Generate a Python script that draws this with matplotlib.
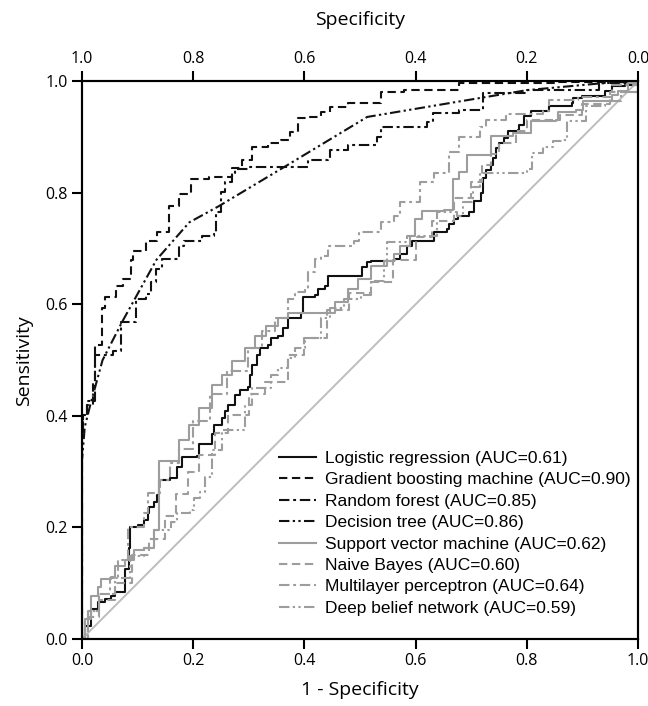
import matplotlib
matplotlib.use("Agg")
import matplotlib.pyplot as plt

# ROC curve points (x = 1 - specificity, y = sensitivity)
lr_x = [0, 0.005, 0.016, 0.029, 0.041, 0.052, 0.059, 0.078, 0.078, 0.085, 0.087, 0.1, 0.112, 0.118, 0.121, 0.13,
        0.135, 0.139, 0.159, 0.171, 0.18, 0.207, 0.21, 0.234, 0.237, 0.251, 0.258, 0.263, 0.276, 0.285, 0.299,
        0.303, 0.305, 0.314, 0.321, 0.335, 0.34, 0.353, 0.362, 0.371, 0.394, 0.398, 0.419, 0.424, 0.437, 0.442,
        0.501, 0.504, 0.513, 0.519, 0.561, 0.572, 0.585, 0.594, 0.626, 0.633, 0.656, 0.661, 0.67, 0.677, 0.697,
        0.706, 0.718, 0.722, 0.727, 0.736, 0.74, 0.745, 0.75, 0.759, 0.766, 0.784, 0.786, 0.795, 0.807, 0.84,
        0.882, 0.884, 0.9, 0.941, 0.954, 0.977, 1.0]
lr_y = [0, 0.023, 0.053, 0.066, 0.071, 0.077, 0.085, 0.089, 0.125, 0.164, 0.201, 0.205, 0.214, 0.226, 0.237, 0.246,
        0.258, 0.285, 0.288, 0.308, 0.326, 0.329, 0.349, 0.367, 0.384, 0.397, 0.409, 0.42, 0.438, 0.447, 0.452,
        0.473, 0.491, 0.509, 0.521, 0.527, 0.539, 0.544, 0.557, 0.575, 0.584, 0.614, 0.616, 0.628, 0.633, 0.651,
        0.651, 0.667, 0.676, 0.678, 0.681, 0.69, 0.705, 0.713, 0.713, 0.73, 0.735, 0.744, 0.753, 0.758, 0.765,
        0.786, 0.8, 0.827, 0.84, 0.849, 0.863, 0.881, 0.89, 0.899, 0.911, 0.913, 0.922, 0.938, 0.947, 0.956,
        0.961, 0.97, 0.973, 0.982, 0.991, 0.993, 1.0]

gbm_x = [0, 0, 0.002, 0.009, 0.02, 0.023, 0.036, 0.041, 0.062, 0.073, 0.089, 0.091, 0.116, 0.135, 0.157, 0.175,
         0.196, 0.228, 0.269, 0.287, 0.305, 0.335, 0.358, 0.374, 0.389, 0.406, 0.43, 0.447, 0.478, 0.537, 0.579,
         0.679, 0.85, 1.0]
gbm_y = [0, 0.36, 0.402, 0.42, 0.463, 0.527, 0.594, 0.614, 0.633, 0.646, 0.68, 0.696, 0.713, 0.73, 0.776, 0.797,
         0.824, 0.829, 0.845, 0.859, 0.883, 0.89, 0.895, 0.909, 0.934, 0.936, 0.945, 0.954, 0.961, 0.98, 0.984,
         0.996, 0.998, 1.0]

rf_x = [0, 0, 0.002, 0.009, 0.023, 0.055, 0.071, 0.098, 0.116, 0.125, 0.134, 0.144, 0.169, 0.175, 0.184, 0.216,
        0.237, 0.241, 0.25, 0.258, 0.269, 0.276, 0.299, 0.394, 0.406, 0.442, 0.447, 0.478, 0.531, 0.537, 0.62,
        0.632, 0.679, 0.722, 0.8, 0.93, 1.0]
rf_y = [0, 0.37, 0.402, 0.427, 0.509, 0.516, 0.569, 0.61, 0.619, 0.64, 0.664, 0.681, 0.681, 0.705, 0.713, 0.722,
        0.726, 0.765, 0.802, 0.819, 0.836, 0.842, 0.847, 0.847, 0.859, 0.863, 0.877, 0.886, 0.9, 0.918, 0.927,
        0.943, 0.948, 0.979, 0.984, 0.996, 1.0]

dt_x = [0, 0, 0.005, 0.015, 0.037, 0.073, 0.134, 0.193, 0.246, 0.365, 0.513, 0.674, 0.8, 0.93, 1.0]
dt_y = [0, 0.32, 0.38, 0.42, 0.50, 0.57, 0.68, 0.747, 0.776, 0.847, 0.936, 0.963, 0.984, 0.996, 1.0]

svm_x = [0, 0.005, 0.016, 0.029, 0.034, 0.052, 0.059, 0.077, 0.094, 0.112, 0.13, 0.139, 0.139, 0.169, 0.175,
         0.193, 0.21, 0.234, 0.251, 0.269, 0.294, 0.312, 0.331, 0.353, 0.371, 0.419, 0.455, 0.478, 0.496, 0.519,
         0.544, 0.561, 0.572, 0.59, 0.599, 0.612, 0.651, 0.668, 0.679, 0.692, 0.727, 0.736, 0.775, 0.807, 0.852,
         0.857, 0.888, 0.902, 0.954, 0.964, 0.982, 1.0]
svm_y = [0, 0.036, 0.077, 0.094, 0.107, 0.112, 0.13, 0.142, 0.16, 0.164, 0.196, 0.286, 0.32, 0.32, 0.356,
         0.384, 0.415, 0.456, 0.473, 0.498, 0.521, 0.544, 0.562, 0.575, 0.584, 0.584, 0.605, 0.628, 0.646, 0.669,
         0.678, 0.69, 0.705, 0.722, 0.753, 0.767, 0.77, 0.824, 0.838, 0.867, 0.868, 0.902, 0.908, 0.929, 0.93,
         0.945, 0.948, 0.964, 0.975, 0.982, 0.996, 1.0]

nb_x = [0, 0.01, 0.03, 0.06, 0.09, 0.12, 0.15, 0.17, 0.19, 0.21, 0.24, 0.263, 0.29, 0.3, 0.33, 0.37, 0.40, 0.44,
        0.48, 0.52, 0.56, 0.60, 0.63, 0.67, 0.70, 0.72, 0.735, 0.75, 0.78, 0.80, 0.86, 0.9, 0.95, 1.0]
nb_y = [0, 0.04, 0.07, 0.10, 0.15, 0.18, 0.22, 0.26, 0.30, 0.33, 0.37, 0.402, 0.402, 0.44, 0.46, 0.51, 0.54, 0.59,
        0.62, 0.64, 0.68, 0.72, 0.75, 0.79, 0.82, 0.85, 0.87, 0.89, 0.91, 0.93, 0.94, 0.96, 0.98, 1.0]

mlp_x = [0, 0.01, 0.03, 0.05, 0.064, 0.082, 0.112, 0.118, 0.141, 0.159, 0.175, 0.2, 0.23, 0.26, 0.299, 0.323,
         0.348, 0.371, 0.383, 0.401, 0.406, 0.419, 0.43, 0.442, 0.465, 0.49, 0.499, 0.537, 0.561, 0.572, 0.608,
         0.633, 0.661, 0.679, 0.715, 0.727, 0.763, 0.829, 0.84, 0.893, 0.954, 1.0]
mlp_y = [0, 0.05, 0.08, 0.11, 0.142, 0.201, 0.226, 0.262, 0.285, 0.315, 0.34, 0.39, 0.44, 0.48, 0.521, 0.552,
         0.575, 0.61, 0.623, 0.628, 0.658, 0.681, 0.687, 0.705, 0.705, 0.713, 0.73, 0.747, 0.758, 0.783, 0.819,
         0.836, 0.874, 0.9, 0.918, 0.93, 0.941, 0.947, 0.966, 0.972, 0.993, 1.0]

dbn_x = [0, 0.01, 0.03, 0.06, 0.087, 0.112, 0.13, 0.16, 0.171, 0.194, 0.201, 0.212, 0.221, 0.234, 0.251, 0.294,
         0.305, 0.34, 0.353, 0.371, 0.383, 0.401, 0.43, 0.447, 0.472, 0.501, 0.519, 0.544, 0.549, 0.585, 0.638,
         0.674, 0.686, 0.704, 0.715, 0.8, 0.81, 0.829, 0.847, 0.866, 0.873, 0.906, 0.941, 0.97, 1.0]
dbn_y = [0, 0.05, 0.08, 0.11, 0.148, 0.164, 0.196, 0.21, 0.226, 0.231, 0.253, 0.263, 0.29, 0.338, 0.374, 0.42,
         0.45, 0.473, 0.486, 0.504, 0.521, 0.539, 0.575, 0.593, 0.61, 0.616, 0.641, 0.669, 0.712, 0.722, 0.765,
         0.758, 0.783, 0.811, 0.836, 0.842, 0.872, 0.883, 0.893, 0.895, 0.929, 0.956, 0.964, 0.98, 1.0]

labels = ["Logistic regression (AUC=0.61)", "Gradient boosting machine (AUC=0.90)",
          "Random forest (AUC=0.85)", "Decision tree (AUC=0.86)",
          "Support vector machine (AUC=0.62)", "Naive Bayes (AUC=0.60)",
          "Multilayer perceptron (AUC=0.64)", "Deep belief network (AUC=0.59)"]

black = "#111111"
grey = "#9d9d9d"
dash = (0, (4, 2.2))
dashdot = (0, (5, 1.8, 1.4, 1.8))
dashdotdot = (0, (5, 1.6, 1.1, 1.6, 1.1, 1.6))

fig = plt.figure(figsize=(6.48, 7.06), dpi=100)
ax = fig.add_axes([0.1265, 0.0949, 0.858, 0.790])

ax.plot([0, 1], [0, 1], color="#bdbdbd", lw=1.4, zorder=1)

lw = 1.5
ax.plot(lr_x, lr_y, color=black, lw=lw, ls="-", drawstyle="steps-post", label=labels[0])
ax.plot(gbm_x, gbm_y, color=black, lw=lw, ls=dash, drawstyle="steps-post", label=labels[1])
ax.plot(rf_x, rf_y, color=black, lw=lw, ls=dashdot, drawstyle="steps-post", label=labels[2])
ax.plot(dt_x, dt_y, color=black, lw=lw, ls=dashdotdot, label=labels[3])
ax.plot(svm_x, svm_y, color=grey, lw=lw, ls="-", drawstyle="steps-post", label=labels[4])
ax.plot(nb_x, nb_y, color=grey, lw=lw, ls=dash, drawstyle="steps-post", label=labels[5])
ax.plot(mlp_x, mlp_y, color=grey, lw=lw, ls=dashdot, drawstyle="steps-post", label=labels[6])
ax.plot(dbn_x, dbn_y, color=grey, lw=lw, ls=dashdotdot, drawstyle="steps-post", label=labels[7])

ax.set_xlim(0, 1)
ax.set_ylim(0, 1)
ticks = [0, 0.2, 0.4, 0.6, 0.8, 1.0]
ax.set_xticks(ticks)
ax.set_yticks(ticks)
ax.set_xticklabels([f"{t:.1f}" for t in ticks])
ax.set_yticklabels([f"{t:.1f}" for t in ticks])

tick_font = "Open Sans"
for lab in ax.get_xticklabels() + ax.get_yticklabels():
    lab.set_family(tick_font)
    lab.set_fontsize(11.5)
ax.tick_params(direction="out", length=7.5, width=1.5, pad=2.5)
for s in ax.spines.values():
    s.set_linewidth(1.5)

ax.set_xlabel("1 - Specificity", family=tick_font, fontsize=14, labelpad=9)
ax.set_ylabel("Sensitivity", family=tick_font, fontsize=14, labelpad=9)

top = ax.twiny()
top.set_xlim(1, 0)
top.set_xticks(ticks)
top.set_xticklabels([f"{t:.1f}" for t in ticks], family=tick_font, fontsize=11.5)
top.tick_params(direction="out", length=7.5, width=1.5, pad=2.5)
top.set_xlabel("Specificity", family=tick_font, fontsize=14, labelpad=19)
for s in top.spines.values():
    s.set_linewidth(1.5)

leg = ax.legend(loc="lower right", bbox_to_anchor=(1.0, 0.029), borderaxespad=0, frameon=False,
                prop={"family": "Liberation Sans", "size": 12.5}, handlelength=2.1,
                handletextpad=0.55, labelspacing=0.36)

fig.savefig("out.png", dpi=100)
